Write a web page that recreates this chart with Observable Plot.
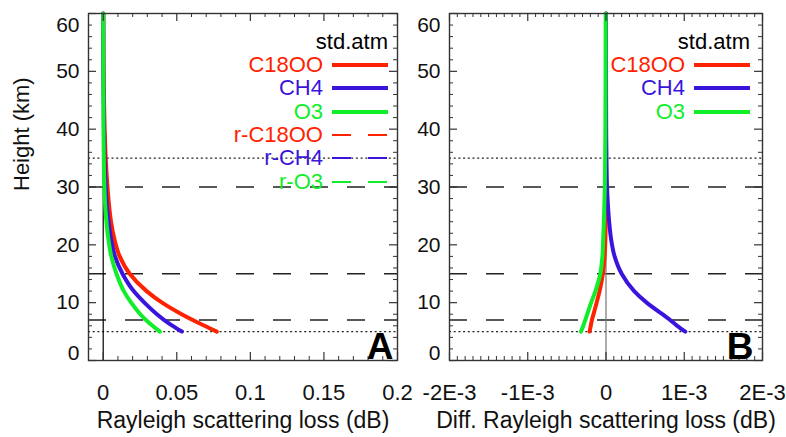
<!DOCTYPE html>
<html>
<head>
<meta charset="utf-8">
<script src="https://cdn.jsdelivr.net/npm/d3@7"></script>
<script src="https://cdn.jsdelivr.net/npm/@observablehq/plot@0.6"></script>
<style>
  html, body { margin: 0; padding: 0; background: #fff; }
  #wrap { position: relative; width: 786px; height: 437px; overflow: hidden;
          font-family: "Liberation Sans", Arial, Helvetica, sans-serif; }
  .panel { position: absolute; top: 0; }
  .legend { position: absolute; font-size: 22px; }
  .legend .row { height: 23.33px; display: flex; align-items: center; justify-content: flex-end; white-space: nowrap; }
  .legend svg { margin-left: 9px; display: block; }
</style>
</head>
<body>
<div id="wrap">
  <div id="panelA" class="panel" style="left:0px"></div>
  <div id="panelB" class="panel" style="left:400px"></div>
  <div id="legendA" class="legend" style="left:150px; top:30px; width:238px"></div>
  <div id="legendB" class="legend" style="left:520px; top:30px; width:230px"></div>
</div>
<script>
// ---------------- data ----------------
const heightsKm = [5, 6, 7, 8, 10, 12, 15, 18, 21, 24, 27, 30, 35, 40, 50, 60];

// Panel A: Rayleigh scattering loss (dB)
const lossC18OO = [0.0772, 0.0688, 0.0608, 0.0533, 0.0400, 0.0295, 0.0180, 0.0112, 0.0076, 0.0053, 0.0039, 0.0029, 0.0017, 0.0010, 0.0003, 0.0001];
const lossCH4   = [0.0535, 0.0472, 0.0415, 0.0365, 0.0280, 0.0207, 0.0131, 0.0080, 0.0053, 0.0036, 0.0024, 0.0017, 0.0009, 0.0005, 0.0001, 0.0000];
const lossO3    = [0.0385, 0.0335, 0.0290, 0.0252, 0.0190, 0.0140, 0.0090, 0.0055, 0.0035, 0.0022, 0.0013, 0.0008, 0.0004, 0.0002, 0.0001, 0.0000];

// Panel B: Diff. Rayleigh scattering loss (dB)
const diffC18OO = [-0.21e-3, -0.195e-3, -0.18e-3, -0.16e-3, -0.12e-3, -0.082e-3, -0.04e-3, -0.018e-3, -0.008e-3, -0.004e-3, -0.002e-3, -0.001e-3, 0, 0, 0, 0];
const diffCH4   = [1.013e-3, 0.91e-3, 0.82e-3, 0.72e-3, 0.52e-3, 0.36e-3, 0.20e-3, 0.11e-3, 0.065e-3, 0.04e-3, 0.024e-3, 0.013e-3, 0.006e-3, 0.002e-3, 0, 0];
const diffO3    = [-0.32e-3, -0.29e-3, -0.265e-3, -0.24e-3, -0.19e-3, -0.135e-3, -0.073e-3, -0.046e-3, -0.036e-3, -0.027e-3, -0.021e-3, -0.015e-3, -0.011e-3, -0.008e-3, -0.005e-3, -0.004e-3];

const seriesNames  = ["C18OO", "CH4", "O3"];
const retrievedNames = ["r-C18OO", "r-CH4", "r-O3"];
const seriesColors = ["#ff2200", "#3a14dc", "#10ee2a"];
const legendTitle = "std.atm";

const dashedLevels = [30, 15, 7];
const dottedLevels = [35, 5];

const yTickValues = [0, 10, 20, 30, 40, 50, 60];
const xTickValuesA = [0, 0.05, 0.1, 0.15, 0.2];
const xTickLabelsA = ["0", "0.05", "0.1", "0.15", "0.2"];
const xTickValuesB = [-2e-3, -1e-3, 0, 1e-3, 2e-3];
const xTickLabelsB = ["-2E-3", "-1E-3", "0", "1E-3", "2E-3"];

const xTitleA = "Rayleigh scattering loss (dB)";
const xTitleB = "Diff. Rayleigh scattering loss (dB)";
const yTitle = "Height (km)";

// ---------------- helpers ----------------
const FONT = '"Liberation Sans", Arial, Helvetica, sans-serif';
const H = 437, MT = 13, MB = 77;
const PH = H - MT - MB;
const AX = "#333";

function rows(values) { return heightsKm.map((h, i) => ({h, v: values[i]})); }

function panel({width, ml, mr, xDomain, xMajor, xMinor, xLabels, series, zeroColor, letter, letterDx, xTitle, showYTitle}) {
  const PW = width - ml - mr;
  const yMajor = yTickValues;
  const yMinor = d3.range(0, 60.001, 2).filter(v => v % 10 !== 0);
  const marks = [
    Plot.ruleY(dashedLevels, {y: d => d, stroke: "#222", strokeWidth: 1.3, strokeDasharray: "18,19"}),
    Plot.ruleY(dottedLevels, {y: d => d, stroke: "#222", strokeWidth: 1.2, strokeDasharray: "2,2.7"}),
    Plot.ruleX([0], {x: d => d, stroke: zeroColor, strokeWidth: 1.2}),
  ];
  series.forEach((vals, i) => {
    marks.push(Plot.line(rows(vals), {x: "v", y: "h", stroke: seriesColors[i], strokeWidth: 4, curve: "monotone-y"}));
  });
  marks.push(
    Plot.frame({stroke: AX, strokeWidth: 1.4}),
    Plot.ruleX(xMajor, {x: d => d, insetTop: PH - 8, stroke: AX, strokeWidth: 1.2}),
    Plot.ruleX(xMajor, {x: d => d, insetBottom: PH - 8, stroke: AX, strokeWidth: 1.2}),
    Plot.ruleX(xMinor, {x: d => d, insetTop: PH - 4, stroke: AX, strokeWidth: 1}),
    Plot.ruleX(xMinor, {x: d => d, insetBottom: PH - 4, stroke: AX, strokeWidth: 1}),
    Plot.ruleY(yMajor, {y: d => d, insetRight: PW - 8, stroke: AX, strokeWidth: 1.2}),
    Plot.ruleY(yMajor, {y: d => d, insetLeft: PW - 8, stroke: AX, strokeWidth: 1.2}),
    Plot.ruleY(yMinor, {y: d => d, insetRight: PW - 4, stroke: AX, strokeWidth: 1}),
    Plot.ruleY(yMinor, {y: d => d, insetLeft: PW - 4, stroke: AX, strokeWidth: 1}),
    Plot.text(yMajor.filter(v => v > 0 && v < 60), {y: d => d, frameAnchor: "left", dx: -9, textAnchor: "end", lineAnchor: "middle", fontSize: 21, fill: "#111"}),
    Plot.text(yMajor.filter(v => v === 60), {y: d => d, frameAnchor: "left", dx: -9, dy: 12, textAnchor: "end", lineAnchor: "middle", fontSize: 21, fill: "#111"}),
    Plot.text(yMajor.filter(v => v === 0), {y: d => d, frameAnchor: "left", dx: -9, dy: -7, textAnchor: "end", lineAnchor: "middle", fontSize: 21, fill: "#111"}),
    Plot.text(xMajor, {x: d => d, text: (d, i) => xLabels[i], frameAnchor: "bottom", dy: 32, lineAnchor: "middle", fontSize: 22, fill: "#111"}),
    Plot.text([xTitle], {text: d => d, frameAnchor: "bottom", dy: 60, lineAnchor: "middle", fontSize: 23, fill: "#111"}),
    Plot.text([letter], {text: d => d, frameAnchor: "bottom-right", dx: letterDx, dy: -2, fontSize: 37, fontWeight: "bold", fill: "#000"})
  );
  if (showYTitle) {
    marks.push(Plot.text([yTitle], {text: d => d, frameAnchor: "left", dx: -67, dy: 4, rotate: -90, lineAnchor: "middle", fontSize: 22, fill: "#111"}));
  }
  return Plot.plot({
    width, height: H,
    marginLeft: ml, marginRight: mr, marginTop: MT, marginBottom: MB,
    x: {domain: xDomain, axis: null},
    y: {domain: [0, 60], axis: null},
    style: {background: "transparent", overflow: "visible", fontFamily: FONT},
    marks
  });
}

const plotA = panel({
  width: 400, ml: 88, mr: 3, xDomain: [-0.01, 0.2],
  xMajor: xTickValuesA, xMinor: d3.range(-0.01, 0.2001, 0.01).filter(v => Math.abs(Math.round(v * 100) % 5) !== 0),
  xLabels: xTickLabelsA, series: [lossC18OO, lossCH4, lossO3], zeroColor: "#000",
  letter: "A", letterDx: -4, xTitle: xTitleA, showYTitle: true
});
const plotB = panel({
  width: 386, ml: 49, mr: 24, xDomain: [-2e-3, 2e-3],
  xMajor: xTickValuesB, xMinor: d3.range(-20, 20.5, 1).filter(v => Math.round(v) % 10 !== 0).map(v => v * 1e-4),
  xLabels: xTickLabelsB, series: [diffC18OO, diffCH4, diffO3], zeroColor: "#777",
  letter: "B", letterDx: -9, xTitle: xTitleB, showYTitle: false
});
document.getElementById("panelA").append(plotA);
document.getElementById("panelB").append(plotB);

// ---------------- legends ----------------
function swatch(color, dashed) {
  const ns = "http://www.w3.org/2000/svg";
  const s = document.createElementNS(ns, "svg");
  s.setAttribute("width", 56); s.setAttribute("height", 10);
  const l = document.createElementNS(ns, "line");
  l.setAttribute("x1", 0); l.setAttribute("x2", 56); l.setAttribute("y1", 5); l.setAttribute("y2", 5);
  l.setAttribute("stroke", color);
  l.setAttribute("stroke-width", dashed ? 2 : 4);
  if (dashed) l.setAttribute("stroke-dasharray", "19,17");
  s.append(l);
  return s;
}
function legend(el, withRetrieved) {
  const t = document.createElement("div");
  t.className = "row"; t.textContent = legendTitle; t.style.color = "#000";
  el.append(t);
  const entries = seriesNames.map((n, i) => ({n, c: seriesColors[i], d: false}));
  if (withRetrieved) retrievedNames.forEach((n, i) => entries.push({n, c: seriesColors[i], d: true}));
  entries.forEach(e => {
    const r = document.createElement("div");
    r.className = "row";
    const sp = document.createElement("span");
    sp.textContent = e.n; sp.style.color = e.c;
    r.append(sp, swatch(e.c, e.d));
    el.append(r);
  });
}
legend(document.getElementById("legendA"), true);
legend(document.getElementById("legendB"), false);
</script>
</body>
</html>
